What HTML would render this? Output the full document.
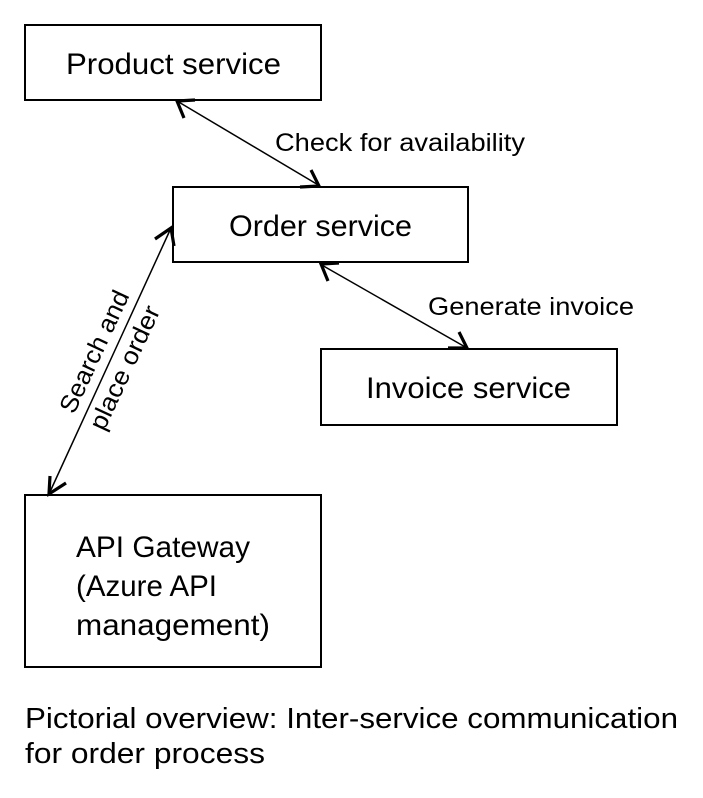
<!DOCTYPE html>
<html><head><meta charset="utf-8"><style>html,body{margin:0;padding:0;background:#fff}svg{display:block}</style></head>
<body>
<svg width="703" height="798" viewBox="0 0 703 798" xmlns="http://www.w3.org/2000/svg" font-family="Liberation Sans, sans-serif" fill="#000">
<g fill="none" stroke="#000" stroke-width="2">
<rect x="25" y="25" width="296" height="75"/>
<rect x="173" y="187" width="295" height="75"/>
<rect x="321" y="349" width="296" height="76"/>
<rect x="25" y="495" width="296" height="172"/>
<line x1="177" y1="101" x2="320" y2="186" stroke-width="1.5"/>
<line x1="320" y1="264" x2="467" y2="348" stroke-width="1.5"/>
<line x1="171" y1="228" x2="49" y2="494" stroke-width="1.5"/>
<g stroke-width="3.2">
<polyline points="195,100 177,101 184,118"/>
<polyline points="300,187 319,186 311,170"/>
<polyline points="339,263 321,264 328,281"/>
<polyline points="448,348 467,348 459,332"/>
<polyline points="155,239 171,228 174,246"/>
<polyline points="50,476 49,494 66,483"/>
</g>
</g>
<g font-size="30">
<text x="66" y="74" textLength="215" lengthAdjust="spacingAndGlyphs">Product service</text>
<text x="229" y="236" textLength="183" lengthAdjust="spacingAndGlyphs">Order service</text>
<text x="366" y="398" textLength="205" lengthAdjust="spacingAndGlyphs">Invoice service</text>
<text x="76" y="557" textLength="174" lengthAdjust="spacingAndGlyphs">API Gateway</text>
<text x="76" y="596" textLength="141" lengthAdjust="spacingAndGlyphs">(Azure API</text>
<text x="76" y="635" textLength="194" lengthAdjust="spacingAndGlyphs">management)</text>
</g>
<g font-size="29">
<text x="25" y="728" textLength="653" lengthAdjust="spacingAndGlyphs">Pictorial overview: Inter-service communication</text>
<text x="25" y="763" textLength="240" lengthAdjust="spacingAndGlyphs">for order process</text>
</g>
<g font-size="25">
<text x="275" y="151" textLength="250" lengthAdjust="spacingAndGlyphs">Check for availability</text>
<text x="428" y="315" textLength="206" lengthAdjust="spacingAndGlyphs">Generate invoice</text>
<text transform="translate(74,415) rotate(-65)" textLength="132" lengthAdjust="spacingAndGlyphs">Search and</text>
<text transform="translate(104,432) rotate(-65)" textLength="134" lengthAdjust="spacingAndGlyphs">place order</text>
</g>
</svg>
</body></html>
